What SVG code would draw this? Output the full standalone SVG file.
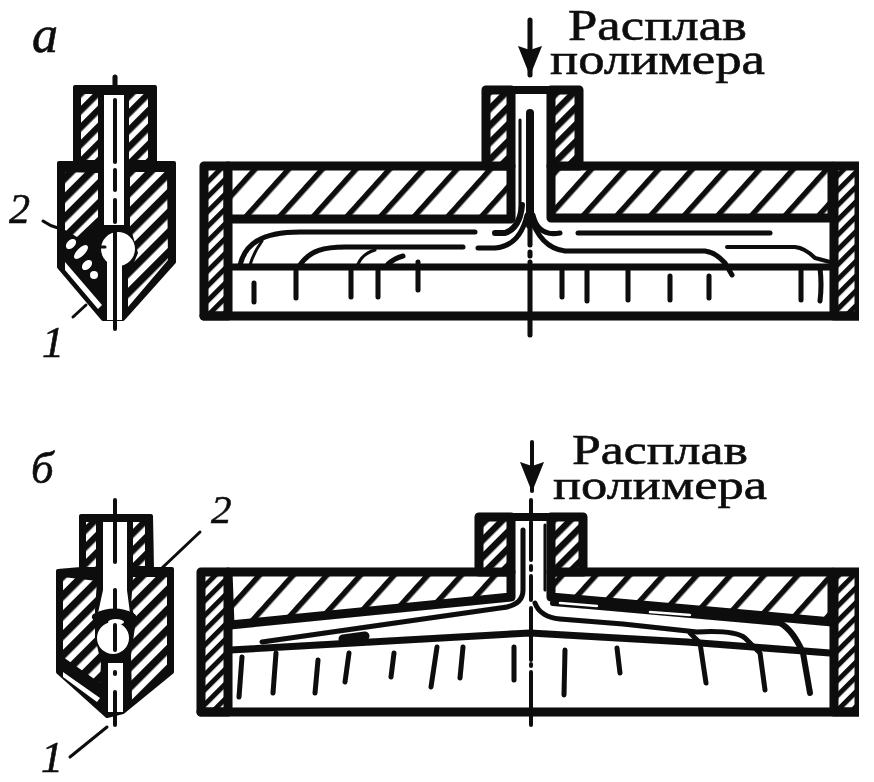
<svg xmlns="http://www.w3.org/2000/svg" width="874" height="782" viewBox="0 0 874 782">
<style>
text{font-family:"Liberation Serif","Times New Roman",serif;fill:#0a0a0a;stroke:#0a0a0a;stroke-width:.6}
.it{font-style:italic}
.k{fill:none;stroke:#0a0a0a;stroke-linecap:round;stroke-linejoin:round}
.s{fill:#0a0a0a;stroke:#0a0a0a;stroke-width:4;stroke-linejoin:round}
.w{fill:#fff;stroke:none}
.g{fill:none;stroke:#fff;stroke-width:2.5;stroke-linecap:round}
.hp{fill:url(#hPlate);stroke:#0a0a0a;stroke-width:9;stroke-linejoin:round}
.hw{fill:url(#hWall);stroke:#0a0a0a;stroke-width:9;stroke-linejoin:round}
.hs{fill:url(#hMid);stroke:#0a0a0a;stroke-width:9;stroke-linejoin:round}
.hn{fill:url(#hNoz);stroke:none}
.hm{fill:url(#hMid);stroke:none}
.t2{stroke-width:2}.t3{stroke-width:3}.t4{stroke-width:4}.t5{stroke-width:5}.t6{stroke-width:6}.t7{stroke-width:7}.t8{stroke-width:8}.t9{stroke-width:9}
</style>
<defs>
<filter id="soft" x="0" y="0" width="100%" height="100%"><feGaussianBlur stdDeviation="0.6"/></filter>
<pattern id="hPlate" width="25" height="25" patternUnits="userSpaceOnUse" patternTransform="rotate(42)"><rect width="25" height="25" fill="#fff"/><rect width="5.5" height="25" fill="#0a0a0a"/></pattern>
<pattern id="hWall" width="10.5" height="10.5" patternUnits="userSpaceOnUse" patternTransform="rotate(45)"><rect width="11" height="11" fill="#fff"/><rect width="5" height="11" fill="#0a0a0a"/></pattern>
<pattern id="hNoz" width="14" height="14" patternUnits="userSpaceOnUse" patternTransform="rotate(45)"><rect width="14" height="14" fill="#fff"/><rect width="7.5" height="14" fill="#0a0a0a"/></pattern>
<pattern id="hMid" width="12" height="12" patternUnits="userSpaceOnUse" patternTransform="rotate(45)"><rect width="12" height="12" fill="#fff"/><rect width="6.5" height="12" fill="#0a0a0a"/></pattern>
<marker id="ah" viewBox="0 0 30 24" refX="29" refY="12" markerUnits="userSpaceOnUse" markerWidth="30" markerHeight="24" orient="auto"><path d="M0,0L30,12L0,24L4,12Z" fill="#0a0a0a"/></marker>
</defs>
<rect width="874" height="782" fill="#fff"/>
<g filter="url(#soft)">

<g id="nozzle-a">
<path class="s" d="M75,87H155V163H174V262L123,319H103L59,267V163H75Z"/>
<path class="hm" d="M81,94H98V160H81Z"/>
<path class="hm" d="M129,94H148V160H129Z"/>
<path class="w" d="M104,95H124V225H104Z"/>
<path class="hn" d="M65,172L98,173V217L77,237L65,230Z"/>
<path class="hn" d="M130,172H167L168,260L128,307V277L138,253L132,233L130,230Z"/>
<circle class="w" cx="118" cy="249" r="17"/>
<path class="w" d="M107,262H122V320H107Z"/>
<ellipse class="w" cx="71" cy="244" rx="6" ry="4" transform="rotate(-45 71 244)"/>
<ellipse class="w" cx="81" cy="252" rx="9" ry="4" transform="rotate(-45 81 252)"/>
<ellipse class="w" cx="87" cy="265" rx="6" ry="4" transform="rotate(-45 87 265)"/>
<ellipse class="w" cx="94" cy="275" rx="4" ry="4"/>
<path class="w" d="M65,262L102,305L98,309L65,270Z"/>
<path class="k t3" d="M97,247H105"/>
<path class="k t5" d="M115,77V85"/>
<path class="k t4" d="M115,100V162M115,170V190M115,200V222"/>
<path class="k t4" d="M115,232V329"/>
<path class="k t3" d="M73,317L86,305"/>
<path class="k t3" d="M43,221Q50,226 58,228"/>
</g>

<g id="mold-a">
<rect class="hw" x="204" y="166" width="24" height="150"/>
<rect class="hw" x="834" y="166" width="25" height="150"/>
<path class="hp" d="M228,166H511V219H228Z"/>
<path class="hp" d="M551,166H832V218H551Z"/>
<path class="hs" d="M486,90H511V166H486Z"/>
<path class="hs" d="M551,90H579V166H551Z"/>
<path class="k t7" d="M228,267H832"/>
<path class="k t9" d="M204,316H859"/>
<path class="k t8" d="M486,90H579"/>
<path class="k t8" d="M530,113V225"/>
<path class="k t3" d="M520,120V210"/>
<path class="k t5" d="M240,265C245,245 260,232 300,232H475"/>
<path class="k t3" d="M250,265C253,255 257,248 262,241"/>
<path class="k t5" d="M300,265C310,250 325,247 345,247H463"/>
<path class="k t3" d="M358,264C362,255 368,252 375,250"/>
<path class="k t5" d="M388,264Q395,258 403,256"/>
<path class="k t6" d="M495,233H505Q520,228 522,205"/>
<path class="k t5" d="M478,248H495Q520,246 527,215"/>
<path class="k t5" d="M533,215Q538,237 560,233"/>
<path class="k t5" d="M578,233H770"/>
<path class="k t5" d="M530,215Q540,248 565,251H705Q715,252 725,263L732,275"/>
<path class="k t4" d="M727,247H795Q805,248 815,258L830,262"/>
<path class="k t5" d="M254,283V302M296,270V298M351,270V297M378,270V297M418,262V290M562,270V297M587,270V301M628,270V300M670,276V300M709,276V298M801,270V300M820,268Q822,285 820,301"/>
<path class="k t5" d="M530,225V245M530,252V256M530,262V335"/>
</g>

<g id="nozzle-b">
<path class="s" d="M81,516H151L152,569H172V672L123,712L107,716L58,672V571L81,569Z"/>
<path class="hm" d="M86,522H96V567H86Z"/>
<path class="hm" d="M133,522H145V566H133Z"/>
<path class="w" d="M103,522H127V590L130,613H98L103,590Z"/>
<path class="hn" d="M63,577L97,581L95,610V637L101,663L100,683L63,657Z"/>
<path class="hn" d="M133,577H167V670L132,700L131,655L136,620L131,606Z"/>
<circle class="w" cx="113" cy="638" r="16"/>
<path class="k t8" d="M96,617Q115,608 132,617"/>
<ellipse class="w" cx="116" cy="622" rx="8" ry="3"/>
<path class="w" d="M108,663H123V712H108Z"/>
<path class="w" d="M63,672L100,698L97,702L63,677Z"/>
<path class="k t4" d="M115,500V515M115,522V562M115,590V612M115,625V650M115,672V674M115,692V725"/>
<path class="k t3" d="M107,727L70,757"/>
<path class="k t3" d="M200,532L162,568"/>
</g>

<g id="mold-b">
<rect class="hw" x="201" y="572" width="27" height="140"/>
<rect class="hw" x="834" y="572" width="25" height="140"/>
<path class="hp" d="M228,572H511V597L230,625Z"/>
<path class="hp" d="M551,572H832V622L551,597Z"/>
<path class="hs" d="M479,517H511V572H479Z"/>
<path class="hs" d="M551,517H583V572H551Z"/>
<path class="k t7" d="M230,650L530,633L687,642L830,653"/>
<path class="k t9" d="M201,712H859"/>
<path class="k t8" d="M479,517H583"/>
<path class="k t5" d="M523,530V590Q523,606 500,608L262,642"/>
<path class="k t9" d="M343,639L365,636"/>
<path class="k t5" d="M535,603Q540,617 560,619L623,624L697,632Q735,630 745,638L760,653L765,690"/>
<path class="k t3" d="M545,525V590"/>
<path class="k t6" d="M553,603L600,607L780,623Q793,630 803,653L810,693"/>
<path class="g" d="M560,603L597,606M650,612L690,615"/>
<path class="k t5" d="M690,633L700,643L706,683"/>
<path class="k t5" d="M242,657L239,697M276,653L273,693M318,660L315,693M349,653L345,682M394,653L391,677M437,647L431,687M463,647L460,678M514,647V680M565,650L564,695M617,648L620,673"/>
<path class="k t4" d="M531,500V515M531,522V560M531,566V570M531,576V600M531,608V660M531,664V666M531,672V725"/>
</g>

<g id="labels">
<path class="k t5" d="M530,20V75" marker-end="url(#ah)"/>
<path class="k t4" d="M532,442V491" marker-end="url(#ah)"/>
<text x="568" y="40" font-size="44" textLength="179" lengthAdjust="spacingAndGlyphs">Расплав</text>
<text x="550" y="74" font-size="44" textLength="215" lengthAdjust="spacingAndGlyphs">полимера</text>
<text x="572" y="464" font-size="43" textLength="176" lengthAdjust="spacingAndGlyphs">Расплав</text>
<text x="553" y="499" font-size="43" textLength="214" lengthAdjust="spacingAndGlyphs">полимера</text>
<text class="it" x="32" y="52" font-size="52">а</text>
<text class="it" x="31" y="483" font-size="45">б</text>
<text class="it" x="9" y="223" font-size="42">2</text>
<text class="it" x="42" y="357" font-size="44">1</text>
<text class="it" x="211" y="523" font-size="41">2</text>
<text class="it" x="41" y="772" font-size="44">1</text>
</g>
</g>
</svg>
